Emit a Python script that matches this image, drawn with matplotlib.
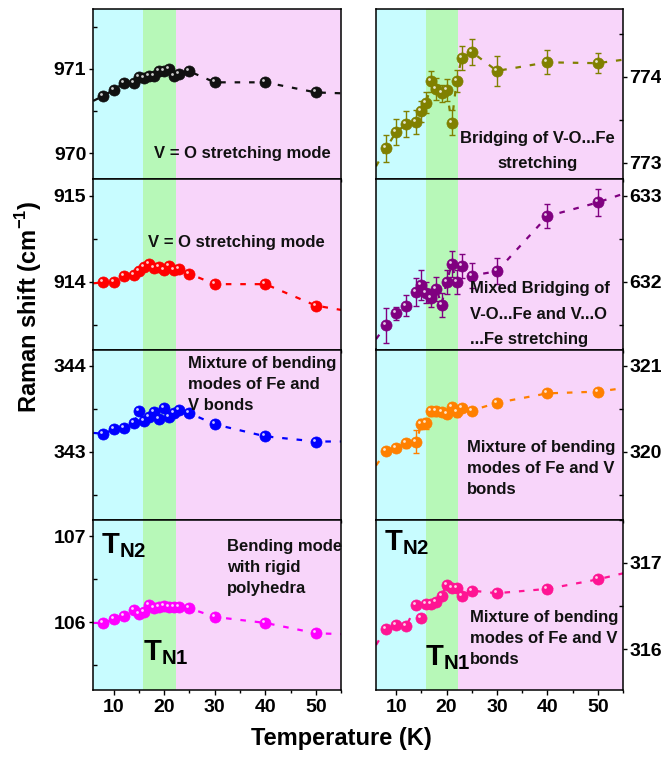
import matplotlib
matplotlib.use("Agg")
import matplotlib.pyplot as plt
from matplotlib.ticker import MultipleLocator
from matplotlib.transforms import offset_copy

plt.rcParams["font.family"] = ["Liberation Sans", "DejaVu Sans"]
plt.rcParams["font.weight"] = "bold"
plt.rcParams["mathtext.fontset"] = "custom"
plt.rcParams["mathtext.bf"] = "Liberation Sans:bold"
plt.rcParams["mathtext.rm"] = "Liberation Sans:bold"

temps = [8, 10, 12, 14, 15, 16, 17, 18, 19, 20, 21, 22, 23, 25, 30, 40, 50]

# left column
vo1 = [970.68, 970.75, 970.83, 970.83, 970.90, 970.89, 970.91, 970.92, 970.98,
       970.98, 971.00, 970.91, 970.94, 970.97, 970.84, 970.84, 970.72]
vo2 = [913.99, 914.00, 914.06, 914.08, 914.12, 914.17, 914.20, 914.16, 914.17,
       914.14, 914.18, 914.14, 914.15, 914.09, 913.97, 913.97, 913.72]
bend343 = [343.21, 343.26, 343.28, 343.33, 343.47, 343.36, 343.40, 343.46, 343.38,
           343.51, 343.40, 343.45, 343.49, 343.45, 343.32, 343.18, 343.12]
bend106 = [105.99, 106.03, 106.07, 106.14, 106.09, 106.12, 106.20, 106.16, 106.18,
           106.19, 106.17, 106.17, 106.17, 106.16, 106.06, 105.99, 105.87]
err106 = [0.02] * 17

# right column
bridge774 = [773.17, 773.36, 773.45, 773.48, 773.60, 773.70, 773.95, 773.86, 773.81,
             773.85, 773.47, 773.95, 774.22, 774.29, 774.07, 774.17, 774.16]
err774 = [0.16, 0.15, 0.15, 0.14, 0.12, 0.12, 0.12, 0.13, 0.10,
          0.13, 0.15, 0.13, 0.14, 0.15, 0.17, 0.14, 0.12]
bridge632 = [631.49, 631.63, 631.72, 631.88, 631.96, 631.87, 631.81, 631.91, 631.73,
             631.99, 632.20, 631.99, 632.18, 632.07, 632.12, 632.76, 632.92]
err632 = [0.20, 0.08, 0.12, 0.16, 0.18, 0.12, 0.10, 0.14, 0.14,
          0.14, 0.15, 0.14, 0.14, 0.15, 0.15, 0.14, 0.16]
bend320 = [320.01, 320.05, 320.10, 320.12, 320.32, 320.33, 320.47, 320.47, 320.46,
           320.44, 320.52, 320.46, 320.51, 320.48, 320.57, 320.68, 320.70]
err320 = [0.03, 0.04, 0.05, 0.13, 0.06, 0.06, 0.05, 0.05, 0.04,
          0.05, 0.05, 0.05, 0.04, 0.03, 0.03, 0.03, 0.03]
bend316 = [316.24, 316.28, 316.27, 316.51, 316.36, 316.53, 316.53, 316.55, 316.62,
           316.75, 316.71, 316.71, 316.62, 316.68, 316.65, 316.70, 316.81]

# dashed guide ends at the panel edges (T = 6 K and 55 K)
edge_x = [6, 55]

panels = [
    # (col, row, values, errors, colour, ylim, edge values)
    (0, 0, vo1, None, "#111111", (969.69, 971.71), (970.62, 970.71)),
    (0, 1, vo2, None, "#ff0000", (913.21, 915.19), (913.98, 913.67)),
    (0, 2, bend343, None, "#0000ff", (342.21, 344.19), (343.22, 343.12)),
    (0, 3, bend106, err106, "#ff00ff", (105.21, 107.19), (105.99, 105.86)),
    (1, 0, bridge774, err774, "#808000", (772.81, 774.79), (772.96, 774.20)),
    (1, 1, bridge632, err632, "#800080", (631.21, 633.19), (631.33, 633.02)),
    (1, 2, bend320, err320, "#ff8000", (319.21, 321.19), (319.84, 320.74)),
    (1, 3, bend316, None, "#ff1493", (315.53, 317.50), (316.05, 316.88)),
]

W, H = 661, 758
fig = plt.figure(figsize=(W / 100, H / 100), dpi=100)

col_left = [93.3 / W, 376 / W]
col_width = [248 / W, 247 / W]
row_top = 9
row_h = 170.25

axes = {}
for col, row, vals, errs, color, ylim, edges in panels:
    bottom = 1 - (row_top + (row + 1) * row_h) / H
    ax = fig.add_axes([col_left[col], bottom, col_width[col], row_h / H])
    axes[(col, row)] = ax

    ax.axvspan(6, 15.9, color="#c8fcff", lw=0, zorder=0)
    ax.axvspan(15.9, 22.3, color="#b7f8b8", lw=0, zorder=0)
    ax.axvspan(22.3, 55, color="#f8d5fa", lw=0, zorder=0)

    line_x = [edge_x[0]] + temps + [edge_x[1]]
    line_y = [edges[0]] + vals + [edges[1]]
    ax.plot(line_x, line_y, color=color, lw=1.6, ls=(0, (2.5, 4)), zorder=2)

    if errs is not None:
        ax.errorbar(temps, vals, yerr=errs, fmt="none", ecolor=color,
                    elinewidth=1.0, capsize=2.5, capthick=1.0, zorder=3)
    ax.plot(temps, vals, "o", ms=8, color=color, mec=color, mew=0.5, zorder=4)
    # glossy highlight on each sphere
    shine = offset_copy(ax.transData, fig=fig, x=-2.0, y=2.0, units="dots")
    ax.plot(temps, vals, "o", ms=2.0, color="white", mec="none", alpha=0.8,
            transform=shine, zorder=5)

    ax.set_xlim(6, 55)
    ax.set_ylim(*ylim)
    ax.xaxis.set_major_locator(MultipleLocator(10))
    ax.xaxis.set_minor_locator(MultipleLocator(5))
    ax.yaxis.set_major_locator(MultipleLocator(1))
    ax.yaxis.set_minor_locator(MultipleLocator(0.5))
    ax.tick_params(axis="x", which="major", direction="out", length=3.5, width=1,
                   labelsize=14, pad=3)
    ax.tick_params(axis="x", which="minor", direction="out", length=2.5, width=1)
    ax.tick_params(axis="y", which="major", direction="out", length=3, width=1,
                   labelsize=14, pad=2)
    ax.tick_params(axis="y", which="minor", direction="in", length=3, width=1)
    if col == 1:
        ax.yaxis.tick_right()
        ax.tick_params(axis="y", which="both", left=False, pad=1.5)
    ax.ticklabel_format(axis="y", useOffset=False)
    if row != 3:
        ax.tick_params(axis="x", labelbottom=False)
    for lab in ax.get_xticklabels() + ax.get_yticklabels():
        lab.set_fontweight("bold")
    for sp in ax.spines.values():
        sp.set_linewidth(1.1)

txt = dict(fontsize=12, fontweight="bold", color="#111111", zorder=6)
axes[(0, 0)].text(17.9, 970.0, "V = O stretching mode", va="center", **txt)
axes[(0, 1)].text(16.9, 914.46, "V = O stretching mode", va="center", **txt)
axes[(0, 2)].text(24.8, 344.11, "Mixture of bending\nmodes of Fe and\nV bonds",
                  va="top", linespacing=1.5, **txt)
axes[(0, 3)].text(32.4, 106.97, "Bending mode\nwith rigid\npolyhedra",
                  va="top", linespacing=1.52, **txt)
axes[(1, 0)].text(38.1, 773.14, "Bridging of V-O...Fe\nstretching", ha="center",
                  va="center", linespacing=1.85, **txt)
axes[(1, 1)].text(24.7, 632.01, "Mixed Bridging of\nV-O...Fe and V...O\n...Fe stretching",
                  va="top", linespacing=1.9, **txt)
axes[(1, 2)].text(24.1, 320.14, "Mixture of bending\nmodes of Fe and V\nbonds",
                  va="top", linespacing=1.5, **txt)
axes[(1, 3)].text(24.7, 316.46, "Mixture of bending\nmodes of Fe and V\nbonds",
                  va="top", linespacing=1.5, **txt)

tn = dict(fontsize=21, color="black", zorder=6, va="baseline")
axes[(0, 3)].text(7.5, 106.80, r"$\mathbf{T_{N2}}$", **tn)
axes[(0, 3)].text(15.9, 105.56, r"$\mathbf{T_{N1}}$", **tn)
axes[(1, 3)].text(7.5, 317.15, r"$\mathbf{T_{N2}}$", **tn)
axes[(1, 3)].text(15.7, 315.82, r"$\mathbf{T_{N1}}$", **tn)

fig.text(341 / W, 1 - 739 / H, "Temperature (K)", ha="center", va="center",
         fontsize=17, fontweight="bold")
fig.text(29 / W, 1 - 307 / H, r"Raman shift (cm$^{\mathbf{-1}}$)", ha="center",
         va="center", rotation=90, fontsize=17, fontweight="bold")

fig.savefig("out.png", dpi=100)
